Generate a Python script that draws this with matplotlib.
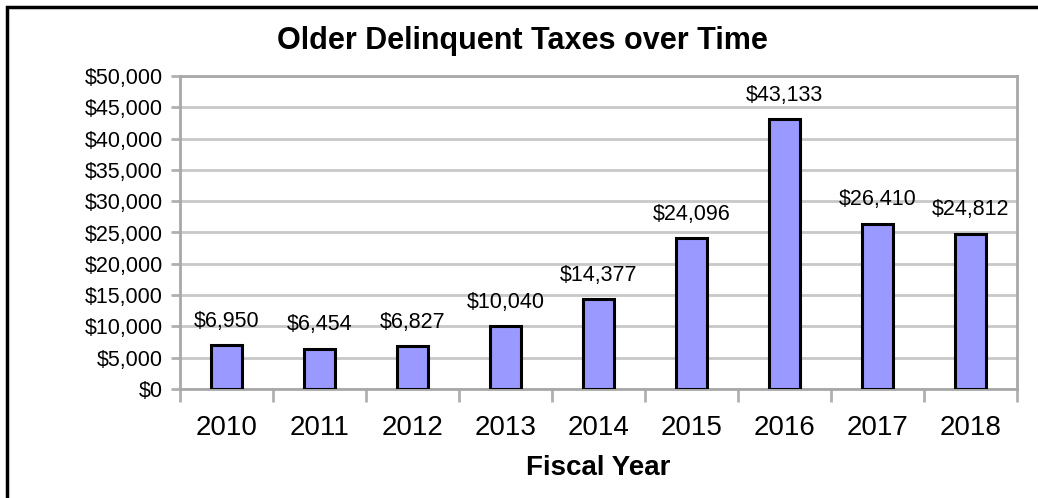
import matplotlib
matplotlib.use("Agg")
import matplotlib.pyplot as plt
from matplotlib.patches import Rectangle
from matplotlib.ticker import FuncFormatter, FixedLocator

years = ["2010", "2011", "2012", "2013", "2014", "2015", "2016", "2017", "2018"]
values = [6950, 6454, 6827, 10040, 14377, 24096, 43133, 26410, 24812]
y_ticks = list(range(0, 50001, 5000))

W, H = 1038, 498
fig = plt.figure(figsize=(W / 100, H / 100), dpi=100)
plt.rcParams['font.family'] = ['Liberation Sans', 'DejaVu Sans']

ax = fig.add_axes([180 / W, 1 - 389 / H, (1017 - 180) / W, (389 - 76) / H])
x = list(range(len(years)))
ax.bar(x, values, width=0.34, color="#9999FF", edgecolor="black", linewidth=2.2, zorder=3)
for xi, v in zip(x, values):
    ax.annotate(f"${v:,}", (xi, v), xytext=(0, 9.5), textcoords="offset points",
                ha="center", va="bottom", fontsize=15.5)

ax.set_xlim(-0.5, len(years) - 0.5)
ax.set_ylim(0, 50000)
ax.set_yticks(y_ticks)
ax.yaxis.set_major_formatter(FuncFormatter(lambda v, p: f"${int(v):,}"))
ax.tick_params(axis="y", labelsize=15.5, length=6.5, width=2, color="#B0B0B0", pad=6)
ax.grid(axis="y", color="#C8C8C8", linewidth=2, zorder=0)
ax.set_xticks(x)
ax.set_xticklabels(years)
ax.tick_params(axis="x", which="major", length=0, labelsize=20, pad=19)
ax.xaxis.set_minor_locator(FixedLocator([i - 0.5 for i in range(len(years) + 1)]))
ax.tick_params(axis="x", which="minor", length=9, width=2, color="#B0B0B0")
for s in ax.spines.values():
    s.set_color("#A8A8A8")
    s.set_linewidth(2)
ax.set_xlabel("Fiscal Year", fontsize=20, fontweight="bold", labelpad=10)

fig.text((275 + 770) / 2 / W, 1 - 41 / H, "Older Delinquent Taxes over Time",
         fontsize=22, fontweight="bold", ha="center", va="center")

fig.patches.append(Rectangle((7 / W, -0.1), 1.2, 1 - 7 / H + 0.1, transform=fig.transFigure,
                             fill=False, edgecolor="black", linewidth=2.5, zorder=10))

fig.savefig("out.png", dpi=100)
